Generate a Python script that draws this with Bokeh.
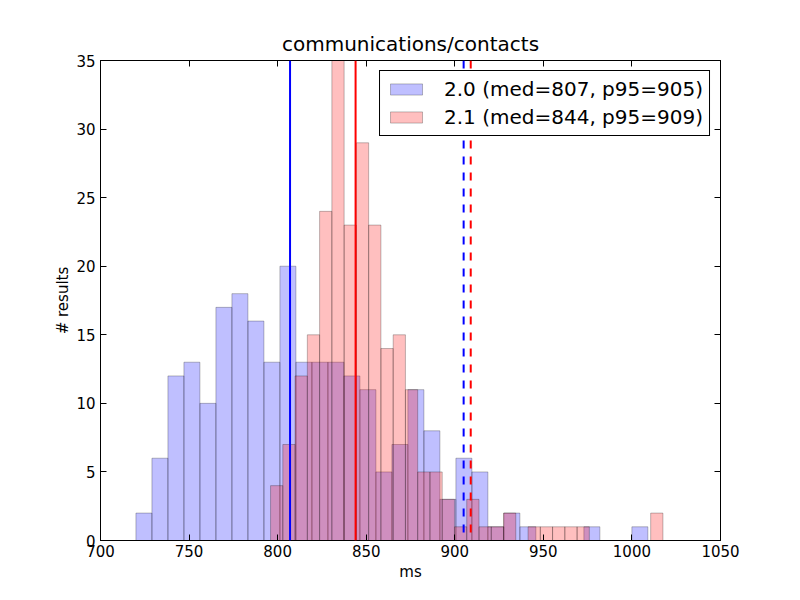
import numpy as np
from bokeh.plotting import figure
from bokeh.models import Range1d, FixedTicker, LinearAxis, Span, CustomJSTickFormatter
from bokeh.embed import file_html
from bokeh.resources import INLINE

title_text = "communications/contacts"
x_label = "ms"
y_label = "# results"
x_ticks = [700, 750, 800, 850, 900, 950, 1000, 1050]
y_ticks = [0, 5, 10, 15, 20, 25, 30, 35]

# version 2.0 histogram (32 bins between lo and hi)
v20_label = "2.0 (med=807, p95=905)"
v20_lo, v20_hi = 720.0, 1009.0
v20_counts = [2, 6, 12, 13, 10, 17, 18, 16, 13, 20, 13, 13, 13, 12, 11, 5,
              7, 11, 8, 3, 6, 5, 1, 2, 1, 0, 0, 0, 1, 0, 0, 1]
v20_median, v20_p95 = 807, 905

# version 2.1 histogram (32 bins between lo and hi)
v21_label = "2.1 (med=844, p95=909)"
v21_lo, v21_hi = 796.0, 1017.5
v21_counts = [4, 7, 12, 15, 24, 35, 23, 29, 23, 14, 15, 11, 5, 5, 3, 1,
              3, 1, 1, 2, 0, 1, 1, 1, 1, 1, 0, 0, 0, 0, 0, 2]
v21_median, v21_p95 = 844, 909

FONT = "DejaVu Sans"

p = figure(width=784, height=584, output_backend="svg", toolbar_location=None,
           x_range=Range1d(700, 1050), y_range=Range1d(0, 35),
           min_border_left=100, min_border_right=64, min_border_top=60, min_border_bottom=44,
           title=title_text)
p.background_fill_color = "white"
p.border_fill_color = "white"
p.outline_line_color = "black"
p.outline_line_width = 1
p.xgrid.visible = False
p.ygrid.visible = False

p.title.align = "center"
p.title.text_font = FONT
p.title.text_font_style = "normal"
p.title.text_font_size = "20px"
p.title.text_color = "black"

def hist(counts, lo, hi, color, label):
    edges = np.linspace(lo, hi, len(counts) + 1)
    p.quad(left=edges[:-1], right=edges[1:], bottom=0, top=counts,
           fill_color=color, fill_alpha=0.25, line_color="black", line_alpha=0.25,
           line_width=1, legend_label=label)

hist(v20_counts, v20_lo, v20_hi, "blue", v20_label)
hist(v21_counts, v21_lo, v21_hi, "red", v21_label)

for loc, col, dash in [(v20_median, "blue", "solid"), (v21_median, "red", "solid"),
                       (v20_p95, "blue", "8 8"), (v21_p95, "red", "8 8")]:
    p.add_layout(Span(location=loc, dimension="height", line_color=col,
                      line_width=2, line_dash=dash))

def style_axis(ax, labels=True):
    ax.axis_line_color = "black"
    ax.major_tick_in = 6
    ax.major_tick_out = 0
    ax.minor_tick_line_color = None
    ax.major_tick_line_color = "black"
    ax.major_label_text_font = FONT
    ax.major_label_text_font_size = "15px"
    ax.major_label_text_color = "black"
    ax.major_label_standoff = 4
    ax.axis_label_text_font = FONT
    ax.axis_label_text_font_size = "15px"
    ax.axis_label_text_font_style = "normal"
    ax.axis_label_text_color = "black"
    if not labels:
        ax.formatter = CustomJSTickFormatter(code="return ''")

p.xaxis.ticker = FixedTicker(ticks=x_ticks)
p.yaxis.ticker = FixedTicker(ticks=y_ticks)
p.xaxis.axis_label = x_label
p.yaxis.axis_label = y_label
style_axis(p.xaxis[0])
style_axis(p.yaxis[0])
p.yaxis.major_label_standoff = 5
p.xaxis.axis_label_standoff = 3
p.yaxis.axis_label_standoff = 1

top_ax = LinearAxis(ticker=FixedTicker(ticks=x_ticks))
right_ax = LinearAxis(ticker=FixedTicker(ticks=y_ticks))
style_axis(top_ax, labels=False)
style_axis(right_ax, labels=False)
p.add_layout(top_ax, "above")
p.add_layout(right_ax, "right")

lg = p.legend[0]
lg.location = "top_right"
lg.border_line_color = "black"
lg.border_line_alpha = 1
lg.border_line_width = 1
lg.background_fill_color = "white"
lg.background_fill_alpha = 1
lg.label_text_font = FONT
lg.label_text_font_size = "20px"
lg.label_text_color = "black"
lg.glyph_width = 40
lg.glyph_height = 14
lg.label_standoff = 18
lg.padding = 6
lg.spacing = 4
lg.margin = 10
lg.label_height = 22

open("out.html", "w").write(file_html(p, INLINE))
